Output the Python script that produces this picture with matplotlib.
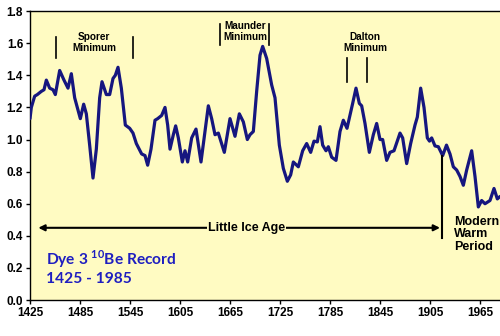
import matplotlib
matplotlib.use("Agg")
import matplotlib.pyplot as plt

plt.rcParams['font.family'] = ['Liberation Sans', 'DejaVu Sans']
plt.rcParams['mathtext.fontset'] = 'custom'
plt.rcParams['mathtext.rm'] = 'Lato'
plt.rcParams['mathtext.bf'] = 'Lato:bold'

years = [1425, 1426.6, 1430.6, 1433.8, 1438.6, 1441.8, 1444.6, 1448.6, 1452.6, 1455.4,
         1460.6, 1465.8, 1470.6, 1474.6, 1478.6, 1481.8, 1485.4, 1489.4, 1492.6, 1496.6,
         1500.6, 1504.6, 1508.6, 1511.4, 1516.6, 1520.6, 1524.6, 1527.4, 1530.6, 1534.6,
         1539.4, 1544.6, 1548.6, 1552.6, 1559, 1563, 1566.2, 1570.2, 1575, 1578.2,
         1583, 1587, 1590.2, 1593, 1597, 1599.8, 1603, 1607.8, 1611, 1614.2,
         1619, 1624.2, 1630.2, 1635, 1639, 1643, 1647, 1651, 1658.2, 1665,
         1671, 1676.2, 1681, 1685.8, 1689, 1693, 1697, 1701, 1704.2, 1709,
         1715, 1719, 1724.2, 1729, 1733.8, 1737.8, 1741, 1747, 1752.2, 1757,
         1761.8, 1765.8, 1769.8, 1773, 1776.2, 1780.2, 1783, 1787, 1792.2, 1797,
         1801, 1805.4, 1812.2, 1816.2, 1820.2, 1823, 1827, 1832.2, 1837, 1841,
         1845, 1848.2, 1853, 1857, 1861.8, 1869, 1872.2, 1877, 1881.8, 1887,
         1889.8, 1893.8, 1897.8, 1901.8, 1904.4, 1907, 1911, 1915, 1920.2, 1924.8,
         1929, 1933, 1937, 1941, 1945, 1949, 1955, 1959, 1963, 1967,
         1971, 1977, 1981.8, 1985.8, 1989]
be10 = [1.13, 1.20, 1.27, 1.28, 1.30, 1.31, 1.37, 1.32, 1.31, 1.28,
        1.43, 1.37, 1.32, 1.41, 1.26, 1.20, 1.13, 1.22, 1.16, 0.965,
        0.76, 0.94, 1.26, 1.36, 1.28, 1.28, 1.38, 1.40, 1.45, 1.32,
        1.09, 1.07, 1.04, 0.975, 0.91, 0.90, 0.84, 0.94, 1.12, 1.13,
        1.15, 1.20, 1.09, 0.94, 1.03, 1.085, 1.01, 0.86, 0.93, 0.86,
        1.01, 1.065, 0.86, 1.05, 1.21, 1.13, 1.03, 1.04, 0.92, 1.13,
        1.02, 1.16, 1.11, 1.00, 1.03, 1.05, 1.30, 1.525, 1.58, 1.505,
        1.34, 1.26, 0.965, 0.82, 0.74, 0.78, 0.86, 0.83, 0.93, 0.975,
        0.92, 0.99, 0.985, 1.08, 0.965, 0.93, 0.955, 0.89, 0.87, 1.05,
        1.12, 1.07, 1.225, 1.32, 1.225, 1.21, 1.10, 0.92, 1.03, 1.10,
        1.00, 1.00, 0.87, 0.92, 0.93, 1.04, 1.01, 0.85, 0.975, 1.09,
        1.14, 1.32, 1.20, 1.01, 0.99, 1.01, 0.96, 0.955, 0.90, 0.965,
        0.91, 0.83, 0.81, 0.77, 0.715, 0.81, 0.93, 0.77, 0.58, 0.62,
        0.60, 0.62, 0.695, 0.63, 0.645]

xticks = [1425, 1485, 1545, 1605, 1665, 1725, 1785, 1845, 1905, 1965]
yticks = [0.0, 0.2, 0.4, 0.6, 0.8, 1.0, 1.2, 1.4, 1.6, 1.8]

minima_labels = ["Sporer\nMinimum", "Maunder\nMinimum", "Dalton\nMinimum"]
minima_label_pos = [(1502, 1.605), (1683, 1.675), (1827, 1.605)]
minima_marks = [(1456, 1549, 1.507, 1.638), (1653, 1712, 1.59, 1.72), (1806, 1829, 1.357, 1.507)]

bg = '#FFFBC2'
line_col = '#16167F'

fig = plt.figure(figsize=(5.0, 3.36), dpi=100)
ax = fig.add_axes([0.06, 0.107, 0.94, 0.86])
ax.set_facecolor(bg)
ax.plot(years, be10, color=line_col, lw=2.3, solid_joinstyle='round', solid_capstyle='round', zorder=3)

ax.set_xlim(1425, 1989)
ax.set_ylim(0, 1.8)
ax.set_xticks(xticks)
ax.set_yticks(yticks)
ax.set_xticklabels([str(t) for t in xticks], fontsize=8.5, fontweight='bold')
ax.set_yticklabels([f"{t:.1f}" for t in yticks], fontsize=8.5, fontweight='bold')
ax.tick_params(direction='out', length=3, width=1, pad=2)
ax.spines['right'].set_visible(False)
for s in ['left', 'bottom', 'top']:
    ax.spines[s].set_linewidth(1.0)

for lab, (lx, ly), (x1, x2, y1, y2) in zip(minima_labels, minima_label_pos, minima_marks):
    ax.text(lx, ly, lab, ha='center', va='center', fontsize=7.2, fontweight='bold',
            linespacing=1.1)
    ax.plot([x1, x1], [y1, y2], color='black', lw=1.2)
    ax.plot([x2, x2], [y1, y2], color='black', lw=1.2)

# Little Ice Age arrow
ax.annotate('', xy=(1435, 0.45), xytext=(1917, 0.45),
            arrowprops=dict(arrowstyle='<|-|>', color='black', lw=1.5,
                            mutation_scale=9, shrinkA=0, shrinkB=0))
ax.text(1685, 0.45, 'Little Ice Age', ha='center', va='center', fontsize=9,
        fontweight='bold', bbox=dict(facecolor=bg, edgecolor='none', pad=0.5))

# Modern warm period marker
ax.plot([1920, 1920], [0.385, 0.90], color='black', lw=1.5, zorder=4)
ax.text(1934, 0.41, 'Modern\nWarm\nPeriod', ha='left', va='center', fontsize=9,
        fontweight='bold', linespacing=1.05)

blue = '#1E1EC0'
ax.text(1444, 0.255, 'Dye 3 $^{\\mathbf{10}}$Be Record', ha='left', va='center',
        fontsize=11.2, fontweight='bold', color=blue, family='Lato')
ax.text(1444, 0.13, '1425 - 1985', ha='left', va='center',
        fontsize=11.2, fontweight='bold', color=blue, family='Lato')

fig.savefig('out.png', dpi=100)
